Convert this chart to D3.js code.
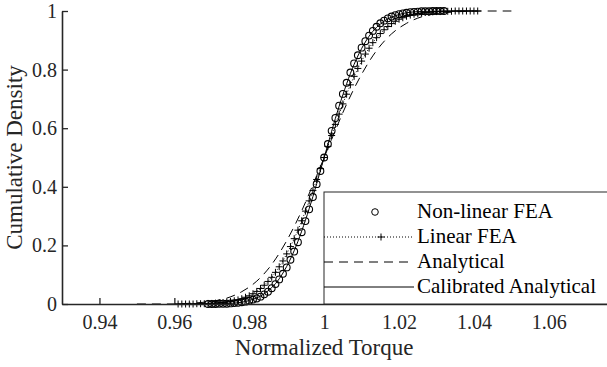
<!DOCTYPE html>
<html>
<head>
<meta charset="utf-8">
<script src="https://cdn.jsdelivr.net/npm/d3@7"></script>
<style>
  body { margin: 0; background: #fff; }
  svg { display: block; }
  text { font-family: "Liberation Serif", "Times New Roman", serif; fill: #262626; }
</style>
</head>
<body>
<script>
//-----------------------------DATA------------------------------//
const xTicks = [0.94, 0.96, 0.98, 1.0, 1.02, 1.04, 1.06];
const xTickLabels = ["0.94", "0.96", "0.98", "1", "1.02", "1.04", "1.06"];
const yTicks = [0, 0.2, 0.4, 0.6, 0.8, 1];
const yTickLabels = ["0", "0.2", "0.4", "0.6", "0.8", "1"];
const seriesNames = ["Non-linear FEA", "Linear FEA", "Analytical", "Calibrated Analytical"];

// Non-linear FEA (circles)
const nonlinX = [0.969,0.970,0.971,0.972,0.973,0.974,0.975,0.976,0.977,0.978,0.979,0.980,0.981,0.982,0.983,0.984,
  0.985,0.986,0.987,0.988,0.989,0.990,0.991,0.992,0.993,0.994,0.995,0.996,0.997,0.998,0.999,1.000,
  1.001,1.002,1.003,1.004,1.005,1.006,1.007,1.008,1.009,1.010,1.011,1.012,1.013,1.014,1.015,1.016,
  1.017,1.018,1.019,1.020,1.021,1.022,1.023,1.024,1.025,1.026,1.027,1.028,1.029,1.030,1.031,1.032];
const nonlinY = [0.000,0.000,0.000,0.001,0.001,0.001,0.002,0.003,0.004,0.006,0.008,0.011,0.015,0.019,0.025,0.033,
  0.042,0.054,0.068,0.084,0.103,0.125,0.151,0.179,0.211,0.245,0.283,0.323,0.365,0.409,0.454,0.500,
  0.546,0.591,0.635,0.677,0.717,0.755,0.790,0.821,0.849,0.875,0.897,0.916,0.932,0.946,0.958,0.967,
  0.975,0.981,0.986,0.989,0.992,0.994,0.996,0.997,0.998,0.999,0.999,0.999,1.000,1.000,1.000,1.000];

// Linear FEA (plus, dotted)
const linX = [0.961,0.962,0.963,0.964,0.965,0.966,0.967,0.968,0.969,0.970,0.971,0.972,0.973,0.974,0.975,0.976,
  0.977,0.978,0.979,0.980,0.981,0.982,0.983,0.984,0.985,0.986,0.987,0.988,0.989,0.990,0.991,0.992,
  0.993,0.994,0.995,0.996,0.997,0.998,0.999,1.000,1.001,1.002,1.003,1.004,1.005,1.006,1.007,1.008,
  1.009,1.010,1.011,1.012,1.013,1.014,1.015,1.016,1.017,1.018,1.019,1.020,1.021,1.022,1.023,1.024,
  1.025,1.026,1.027,1.028,1.029,1.030,1.031,1.032,1.033,1.034,1.035,1.036,1.037,1.038,1.039,1.040,1.041];
const linY = [0.000,0.000,0.000,0.000,0.000,0.001,0.001,0.001,0.002,0.002,0.003,0.004,0.005,0.007,0.009,0.011,
  0.014,0.018,0.023,0.028,0.035,0.043,0.053,0.064,0.077,0.091,0.108,0.127,0.147,0.171,0.196,0.223,
  0.252,0.284,0.317,0.352,0.387,0.425,0.462,0.500,0.538,0.575,0.613,0.648,0.683,0.716,0.748,0.777,
  0.804,0.829,0.853,0.873,0.892,0.909,0.923,0.936,0.947,0.957,0.965,0.972,0.977,0.982,0.986,0.989,
  0.991,0.993,0.995,0.996,0.997,0.998,0.998,0.999,0.999,0.999,1.000,1.000,1.000,1.000,1.000,1.000,1.000];

// Analytical (dashed)
const anaX = [0.950,0.954,0.958,0.962,0.966,0.970,0.974,0.978,0.982,0.986,0.990,0.994,0.998,
  1.002,1.006,1.010,1.014,1.018,1.022,1.026,1.030,1.034,1.038,1.042,1.046,1.050];
const anaY = [0.000,0.000,0.000,0.001,0.004,0.009,0.020,0.042,0.078,0.135,0.216,0.318,0.438,
  0.562,0.682,0.784,0.865,0.922,0.958,0.980,0.991,0.996,0.999,1.000,1.000,1.000];

// Calibrated Analytical (solid)
const calX = [0.960,0.964,0.968,0.972,0.976,0.980,0.984,0.988,0.992,0.996,1.000,
  1.004,1.008,1.012,1.016,1.020,1.024,1.028,1.032,1.036,1.040];
const calY = [0.000,0.000,0.000,0.001,0.003,0.012,0.035,0.086,0.182,0.325,0.500,
  0.675,0.818,0.914,0.965,0.988,0.997,0.999,1.000,1.000,1.000];

//-----------------------------SVG------------------------------//
const width = 607;
const height = 367;
const margin = { left: 62, top: 11, bottom: 63 };
const axisColor = "#262626";

const svg = d3.select("body").append("svg")
  .attr("width", width)
  .attr("height", height);

//----------------------------SCALES-----------------------------//
const xScale = d3.scaleLinear().domain([0.93, 1.08]).range([margin.left, margin.left + 0.15 * 3745]);
const yScale = d3.scaleLinear().domain([0, 1]).range([height - margin.bottom, margin.top]);

const nonlin = d3.zip(nonlinX, nonlinY);
const lin = d3.zip(linX, linY);
const ana = d3.zip(anaX, anaY);
const cal = d3.zip(calX, calY);

const line = d3.line()
  .x(d => xScale(d[0]))
  .y(d => yScale(d[1]));

//----------------------------LINES------------------------------//
const plot = svg.append("g");

// non-linear FEA markers
plot.selectAll(".circ").data(nonlin).enter().append("circle")
  .attr("class", "circ")
  .attr("cx", d => xScale(d[0]))
  .attr("cy", d => yScale(d[1]))
  .attr("r", 3.4)
  .attr("fill", "none")
  .attr("stroke", "#000")
  .attr("stroke-width", 1.1);

// linear FEA
plot.append("path")
  .attr("d", line.curve(d3.curveLinear)(lin))
  .attr("fill", "none")
  .attr("stroke", "#000")
  .attr("stroke-width", 1)
  .attr("stroke-dasharray", "1,2");

plot.selectAll(".plus").data(lin).enter().append("path")
  .attr("class", "plus")
  .attr("d", d => {
    const x = xScale(d[0]), y = yScale(d[1]);
    return "M" + (x - 3.5) + "," + y + "H" + (x + 3.5) + "M" + x + "," + (y - 3.5) + "V" + (y + 3.5);
  })
  .attr("stroke", "#000")
  .attr("stroke-width", 1);

// analytical
plot.append("path")
  .attr("d", line.curve(d3.curveMonotoneX)(ana))
  .attr("fill", "none")
  .attr("stroke", "#000")
  .attr("stroke-width", 1)
  .attr("stroke-dasharray", "9,6");

// calibrated analytical
plot.append("path")
  .attr("d", line.curve(d3.curveMonotoneX)(cal))
  .attr("fill", "none")
  .attr("stroke", "#000")
  .attr("stroke-width", 1);

//-----------------------------AXES------------------------------//
const xAxis = d3.axisBottom(xScale)
  .tickValues(xTicks)
  .tickFormat((d, i) => xTickLabels[i])
  .tickSizeInner(-6)
  .tickSizeOuter(0)
  .tickPadding(11);

const yAxis = d3.axisLeft(yScale)
  .tickValues(yTicks)
  .tickFormat((d, i) => yTickLabels[i])
  .tickSizeInner(-6)
  .tickSizeOuter(0)
  .tickPadding(5);

const gx = svg.append("g")
  .attr("transform", "translate(0," + yScale(0) + ")")
  .call(xAxis);

const gy = svg.append("g")
  .attr("transform", "translate(" + margin.left + ",0)")
  .call(yAxis);

[gx, gy].forEach(g => {
  g.attr("font-family", null);
  g.select(".domain").attr("stroke", axisColor).attr("stroke-width", 1.6);
  g.selectAll(".tick line").attr("stroke", axisColor).attr("stroke-width", 1.3);
  g.selectAll(".tick text")
    .attr("fill", axisColor)
    .style("font-size", "20px")
    .style("font-family", "'Liberation Serif', 'Times New Roman', serif");
});

svg.append("text")
  .attr("x", xScale(1.0))
  .attr("y", 355)
  .attr("text-anchor", "middle")
  .style("font-size", "23px")
  .text("Normalized Torque");

svg.append("text")
  .attr("transform", "translate(22," + yScale(0.5) + ") rotate(-90)")
  .attr("text-anchor", "middle")
  .style("font-size", "23px")
  .text("Cumulative Density");

//----------------------------LEGEND------------------------------//
const legend = svg.append("g").attr("transform", "translate(324,192)");

legend.append("rect")
  .attr("x", 0).attr("y", 0)
  .attr("width", 300).attr("height", yScale(0) - 192)
  .attr("fill", "#fff")
  .attr("stroke", axisColor)
  .attr("stroke-width", 1);

const rowY = [20, 45, 70, 95];
const items = legend.selectAll(".item").data(seriesNames).enter().append("g")
  .attr("class", "item")
  .attr("transform", (d, i) => "translate(0," + rowY[i] + ")");

items.append("text")
  .attr("x", 93)
  .attr("y", 6)
  .style("font-size", "21px")
  .style("fill", "#000")
  .text(d => d);

items.filter((d, i) => i === 0).append("circle")
  .attr("cx", 51).attr("cy", 0).attr("r", 3.3)
  .attr("fill", "none").attr("stroke", "#000");

const lin2 = items.filter((d, i) => i === 1);
lin2.append("line")
  .attr("x1", 0).attr("x2", 88).attr("y1", 0).attr("y2", 0)
  .attr("stroke", "#000").attr("stroke-dasharray", "1,2");
lin2.append("path")
  .attr("d", "M53.5,0H60.5M57,-3.5V3.5")
  .attr("stroke", "#000");

items.filter((d, i) => i === 2).append("line")
  .attr("x1", 0).attr("x2", 89).attr("y1", 0).attr("y2", 0)
  .attr("stroke", "#000").attr("stroke-dasharray", "9,6");

items.filter((d, i) => i === 3).append("line")
  .attr("x1", 0).attr("x2", 90).attr("y1", 0).attr("y2", 0)
  .attr("stroke", "#000");
</script>
</body>
</html>
